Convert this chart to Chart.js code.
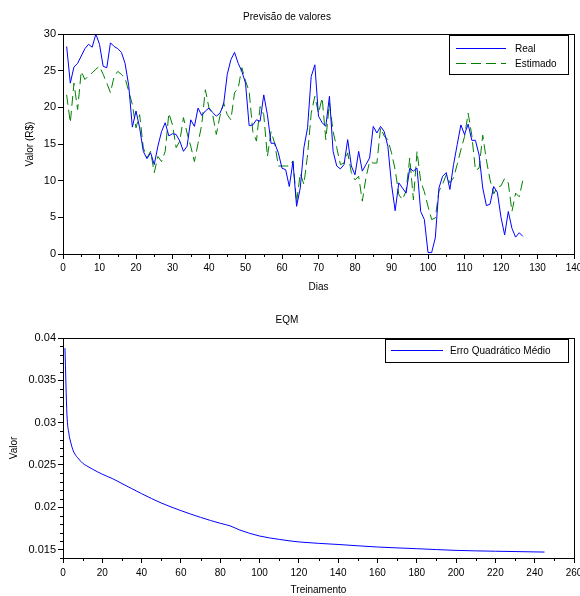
<!DOCTYPE html>
<html>
<head>
<meta charset="utf-8">
<script src="https://cdn.jsdelivr.net/npm/chart.js@4.4.0/dist/chart.umd.min.js"></script>
<style>
    html, body { margin: 0; padding: 0; background: #fff; }
    #wrap { position: relative; width: 580px; height: 596px; background: #fff; }
    canvas { position: absolute; left: 0; }
</style>
</head>
<body>
<div id="wrap">
    <canvas id="previsaoChart" width="580" height="300" style="top:0"></canvas>
    <canvas id="eqmChart" width="580" height="296" style="top:300px"></canvas>
</div>
<script>
// Dias 1..126
const days = Array.from({ length: 126 }, (_, i) => i + 1);

const realValues = [
    28.3, 23.3, 25.5, 26.0, 27.0, 28.0, 28.6, 28.2, 30.0, 28.6,
    25.6, 25.4, 28.8, 28.3, 28.0, 27.5, 26.0, 23.0, 17.3, 19.5,
    17.2, 14.0, 13.0, 13.8, 12.2, 14.7, 16.7, 17.9, 16.1, 16.4,
    16.3, 15.4, 14.0, 14.7, 18.3, 17.4, 19.9, 18.9, 19.5, 19.9,
    19.3, 18.8, 19.2, 20.4, 24.5, 26.5, 27.5, 26.0, 24.9, 23.3,
    17.5, 17.6, 18.3, 18.1, 21.7, 19.0, 15.1, 15.1, 13.8, 11.7,
    11.5, 9.2, 12.6, 6.5, 9.0, 14.5, 17.2, 24.2, 25.8, 18.8,
    17.9, 17.4, 21.5, 14.0, 12.0, 11.6, 12.2, 15.6, 12.0, 10.8,
    14.0, 11.3, 12.2, 13.1, 17.4, 16.5, 17.4, 16.7, 14.7, 9.5,
    5.9, 9.7, 9.0, 8.3, 11.7, 11.3, 11.7, 5.8, 4.7, 0.2,
    0.2, 2.2, 9.0, 10.6, 11.1, 8.8, 12.2, 14.9, 17.6, 16.3,
    17.7, 15.5, 15.5, 13.5, 9.0, 6.6, 6.8, 9.2, 8.4, 5.0,
    2.6, 5.8, 3.5, 2.3, 2.9, 2.4
];

const estimatedValues = [
    21.7, 17.9, 23.3, 19.7, 24.9, 23.8, 24.3, 24.7, 25.2, 25.6,
    24.5, 23.3, 22.0, 24.2, 24.9, 24.5, 24.0, 22.2, 20.4, 17.2,
    19.0, 14.5, 13.1, 14.0, 11.1, 13.3, 12.6, 14.0, 19.2, 17.6,
    14.5, 15.4, 18.6, 16.5, 14.7, 12.6, 15.1, 17.6, 22.4, 19.9,
    19.0, 16.3, 18.8, 20.6, 19.0, 18.3, 22.0, 22.6, 25.4, 23.6,
    22.2, 16.7, 15.4, 20.1, 19.0, 13.3, 16.7, 15.1, 12.0, 12.0,
    12.0, 12.0, 12.7, 7.0, 11.0, 9.5, 13.5, 19.2, 21.5, 19.2,
    21.3, 15.6, 20.6, 16.7, 14.5, 12.2, 12.4, 13.8, 11.1, 10.1,
    10.6, 7.2, 10.4, 12.6, 12.4, 12.4, 17.2, 16.1, 15.6, 13.8,
    11.5, 8.1, 7.4, 8.6, 13.1, 7.4, 14.0, 9.9, 8.5, 6.5,
    4.7, 4.9, 8.6, 9.5, 10.8, 9.7, 10.4, 12.2, 14.2, 16.0,
    19.2, 16.2, 11.4, 11.7, 16.2, 12.8, 10.1, 8.2, 9.1, 9.3,
    10.3, 9.7, 5.8, 8.3, 7.8, 10.1
];

// Erro quadrático médio ao longo do treinamento
const epochs = [1, 2, 3, 4, 5, 6, 8, 10, 12, 15, 20, 25, 30, 40, 50, 60, 70, 80, 85, 90, 100, 110, 120, 140, 160, 180, 200, 220, 245];
const eqmValues = [
    0.0388, 0.0310, 0.0287, 0.0276, 0.0268, 0.0263, 0.0257, 0.0252, 0.0249, 0.0245,
    0.0239, 0.0234, 0.0228, 0.0216, 0.0205, 0.0196, 0.0188, 0.0181, 0.0178, 0.0173,
    0.0166, 0.0162, 0.0159, 0.0156, 0.0153, 0.0151, 0.0149, 0.0148, 0.0147
];
const eqmTicks = [0.015, 0.02, 0.025, 0.03, 0.035, 0.04];

Chart.defaults.font.family = '"Liberation Sans", Arial, sans-serif';
Chart.defaults.color = '#000';

const tickFont = { size: 10 };
const yTickFont = { size: 11 };
const labelFont = { size: 10 };

// frame round the plot + short minor ticks
const framePlugin = {
    id: 'frame',
    afterDraw(chart, args, opts) {
        const { ctx, chartArea: a } = chart;
        ctx.save();
        ctx.strokeStyle = '#000';
        ctx.lineWidth = 1;
        ctx.strokeRect(Math.round(a.left) + 0.5, Math.round(a.top) + 0.5,
            Math.round(a.right - a.left), Math.round(a.bottom - a.top));
        (opts.minor || []).forEach(m => {
            const scale = chart.scales[m.axis];
            const first = Math.ceil(scale.min / m.step - 1e-6);
            const last = Math.floor(scale.max / m.step + 1e-6);
            ctx.beginPath();
            for (let n = first; n <= last; n++) {
                const v = n * m.step;
                const r = v / m.major;
                if (Math.abs(r - Math.round(r)) < 1e-6) continue;
                const p = Math.round(scale.getPixelForValue(v)) + 0.5;
                if (m.axis === 'x') {
                    ctx.moveTo(p, a.bottom);
                    ctx.lineTo(p, a.bottom + 3);
                } else {
                    ctx.moveTo(a.left, p);
                    ctx.lineTo(a.left - 3, p);
                }
            }
            ctx.stroke();
        });
        ctx.restore();
    }
};

// legend in a bordered box inside the plot
const boxLegendPlugin = {
    id: 'boxLegend',
    afterDraw(chart, args, opts) {
        const ctx = chart.ctx;
        ctx.save();
        ctx.fillStyle = '#fff';
        ctx.fillRect(opts.x, opts.y, opts.w, opts.h);
        ctx.strokeStyle = '#000';
        ctx.lineWidth = 1;
        ctx.strokeRect(opts.x + 0.5, opts.y + 0.5, opts.w, opts.h);
        chart.data.datasets.forEach((ds, i) => {
            const y = opts.y + opts.firstRow + i * opts.rowGap;
            ctx.strokeStyle = ds.borderColor;
            ctx.setLineDash(ds.borderDash || []);
            ctx.beginPath();
            ctx.moveTo(opts.x + opts.lineStart, y + 0.5);
            ctx.lineTo(opts.x + opts.lineStart + opts.lineLen, y + 0.5);
            ctx.stroke();
            ctx.setLineDash([]);
            ctx.fillStyle = '#000';
            ctx.font = '10px "Liberation Sans", Arial, sans-serif';
            ctx.textBaseline = 'middle';
            ctx.fillText(ds.label, opts.x + opts.textStart, y + 1);
        });
        ctx.restore();
    }
};

function axisGrid() {
    return { drawOnChartArea: false, drawTicks: true, tickLength: 5, tickColor: '#000', color: '#000' };
}

new Chart(document.getElementById('previsaoChart'), {
    type: 'line',
    data: {
        labels: days,
        datasets: [{
            label: 'Real',
            data: realValues,
            borderColor: '#0000ff',
            borderWidth: 1,
            pointRadius: 0,
            tension: 0
        }, {
            label: 'Estimado',
            data: estimatedValues,
            borderColor: '#008000',
            borderWidth: 1,
            borderDash: [10, 5],
            pointRadius: 0,
            tension: 0
        }]
    },
    options: {
        responsive: false,
        animation: false,
        events: [],
        layout: { padding: { left: 0, right: 6, top: 0, bottom: 0 } },
        plugins: {
            legend: { display: false },
            tooltip: { enabled: false },
            title: {
                display: true,
                text: 'Previsão de valores',
                color: '#000',
                font: { size: 10, weight: 'normal' },
                padding: { top: 11, bottom: 11 }
            },
            frame: { minor: [{ axis: 'x', step: 5, major: 10 }] },
            boxLegend: { x: 449, y: 35, w: 119, h: 39, firstRow: 13, rowGap: 15, lineStart: 7, lineLen: 50, textStart: 66 }
        },
        scales: {
            x: {
                type: 'linear',
                min: 0,
                max: 140,
                ticks: { stepSize: 10, font: tickFont, padding: 3, maxRotation: 0, autoSkip: false },
                grid: axisGrid(),
                border: { display: true, color: '#000' },
                title: { display: true, text: 'Dias', font: labelFont, padding: { top: 0, bottom: 7 } },
                afterFit(s) { s.height = 46; s.paddingLeft = 0; s.paddingRight = 0; }
            },
            y: {
                min: 0,
                max: 30,
                ticks: { stepSize: 5, font: yTickFont, padding: 2 },
                grid: axisGrid(),
                border: { display: true, color: '#000' },
                title: { display: true, text: 'Valor (R$)', font: labelFont, padding: { top: 24, bottom: 0 } },
                afterFit(s) { s.width = 63; s.paddingTop = 0; s.paddingBottom = 0; }
            }
        }
    },
    plugins: [framePlugin, boxLegendPlugin]
});

new Chart(document.getElementById('eqmChart'), {
    type: 'line',
    data: {
        datasets: [{
            label: 'Erro Quadrático Médio',
            data: epochs.map((x, i) => ({ x: x, y: eqmValues[i] })),
            borderColor: '#0000ff',
            borderWidth: 1,
            pointRadius: 0,
            cubicInterpolationMode: 'monotone'
        }]
    },
    options: {
        responsive: false,
        animation: false,
        events: [],
        layout: { padding: { left: 0, right: 6, top: 0, bottom: 0 } },
        plugins: {
            legend: { display: false },
            tooltip: { enabled: false },
            title: {
                display: true,
                text: 'EQM',
                color: '#000',
                font: { size: 10, weight: 'normal' },
                padding: { top: 14, bottom: 12 }
            },
            frame: {
                minor: [
                    { axis: 'x', step: 10, major: 20 },
                    { axis: 'y', step: 0.001, major: 0.005 }
                ]
            },
            boxLegend: { x: 385, y: 39, w: 183, h: 23, firstRow: 11, rowGap: 15, lineStart: 6, lineLen: 52, textStart: 65 }
        },
        scales: {
            x: {
                type: 'linear',
                min: 0,
                max: 260,
                ticks: { stepSize: 20, font: tickFont, padding: 4, maxRotation: 0, autoSkip: false },
                grid: axisGrid(),
                border: { display: true, color: '#000' },
                title: { display: true, text: 'Treinamento', font: labelFont, padding: { top: 0, bottom: 0 } },
                afterFit(s) { s.height = 38; s.paddingLeft = 0; s.paddingRight = 0; }
            },
            y: {
                min: 0.014,
                max: 0.04,
                afterBuildTicks(s) { s.ticks = eqmTicks.map(v => ({ value: v })); },
                ticks: { font: yTickFont, padding: 2, callback: v => String(+v.toFixed(3)) },
                grid: axisGrid(),
                border: { display: true, color: '#000' },
                title: { display: true, text: 'Valor', font: labelFont, padding: { top: 8, bottom: 0 } },
                afterFit(s) { s.width = 63; s.paddingTop = 0; s.paddingBottom = 0; }
            }
        }
    },
    plugins: [framePlugin, boxLegendPlugin]
});
</script>
</body>
</html>
